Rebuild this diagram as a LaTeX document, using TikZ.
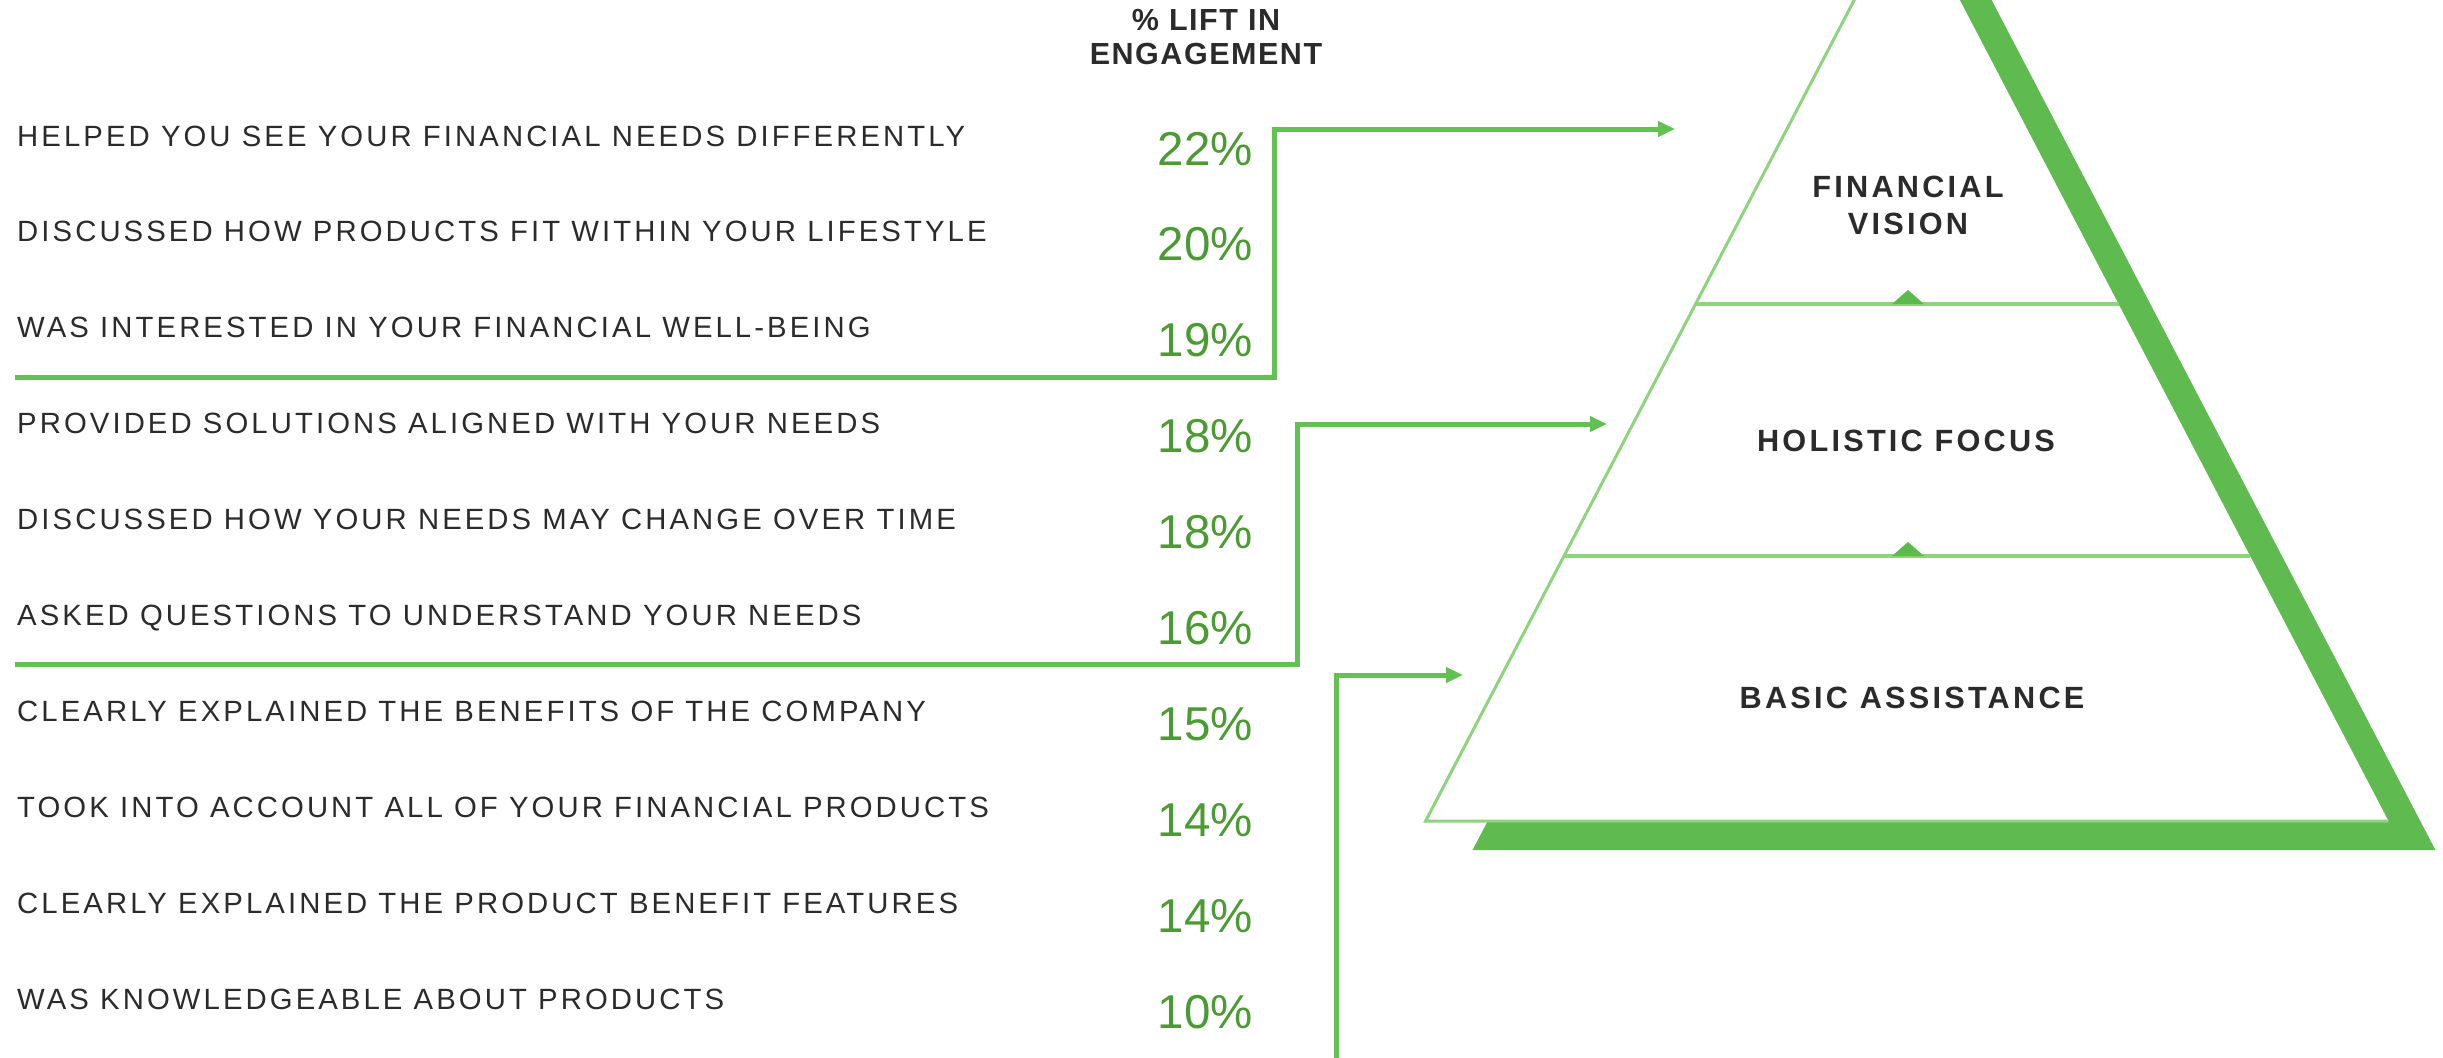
\documentclass[tikz,border=0pt]{standalone}
\usepackage{fontspec}
\setmainfont{Liberation Sans}
\newfontfamily\itemfont[LetterSpace=10.5]{Liberation Sans}
\newfontfamily\headfont[LetterSpace=5]{Liberation Sans Bold}
\newfontfamily\tierfont[LetterSpace=10.5]{Liberation Sans Bold}
\newfontfamily\pctfont{Liberation Sans}
\usetikzlibrary{arrows.meta,calc}

\definecolor{inkgray}{RGB}{43,43,43}
\definecolor{pctgreen}{RGB}{74,155,50}
\definecolor{linkgreen}{RGB}{98,193,82}
\definecolor{shadowgreen}{RGB}{95,187,80}
\definecolor{edgegreen}{RGB}{142,212,126}
\definecolor{markgreen}{RGB}{92,185,77}

\begin{document}
\begin{tikzpicture}[x=1pt,y=-1pt,
  item/.style={inner sep=0pt, anchor=base west, text=inkgray,
    font=\itemfont\fontsize{29.3}{35}\selectfont},
  pct/.style={inner sep=0pt, anchor=base east, text=pctgreen,
    font=\pctfont\fontsize{47.5}{55}\selectfont},
  head/.style={inner sep=0pt, anchor=base, text=inkgray,
    font=\headfont\fontsize{30.5}{36}\selectfont},
  tier/.style={inner sep=0pt, text=inkgray,
    font=\tierfont\fontsize{30.7}{36}\selectfont},
  link/.style={draw=linkgreen, line width=5pt,
    -{Triangle[length=17pt,width=15pt]}},
  divider/.style={draw=edgegreen, line width=4pt},
  notch/.style={fill=markgreen}
]
\useasboundingbox (0,0) rectangle (2443,1057);
\clip (0,0) rectangle (2443,1057);

% ---- pyramid: offset green shadow, white body, tier dividers ----
\coordinate (apex) at (1907,-101);
\coordinate (bl) at (1425.6,821);
\coordinate (br) at (2388.4,821);
\fill[shadowgreen] ([shift={(47,29)}]apex) -- ([shift={(47,29)}]bl)
  -- ([shift={(47,29)}]br) -- cycle;
\fill[white] (apex) -- (bl) -- (br) -- cycle;
\draw[edgegreen, line width=3pt, line join=miter] (apex) -- (bl) -- (br);

\coordinate (d1l) at ($(apex)!0.4393!(bl)$);
\coordinate (d1r) at ($(apex)!0.4393!(br)$);
\coordinate (d2l) at ($(apex)!0.7126!(bl)$);
\coordinate (d2r) at ($(apex)!0.7126!(br)$);
\draw[divider] (d1l) -- (d1r);
\draw[divider] (d2l) -- (d2r);
\fill[notch] (1892,304) -- (1908,290) -- (1924,304) -- cycle;
\fill[notch] (1892,556) -- (1908,542) -- (1924,556) -- cycle;

\node[tier] (vision1) at (1908,187) {FINANCIAL};
\node[tier] (vision2) at (1908,224) {VISION};
\node[tier] (holistic) at (1906,440.5) {HOLISTIC FOCUS};
\node[tier] (basic) at (1912,698) {BASIC ASSISTANCE};

% ---- column header ----
\node[head] (head1) at (1206,30.7) {\% LIFT IN};
\node[head] (head2) at (1206,65) {ENGAGEMENT};

% ---- behaviour list with lift values ----
\foreach \txt/\val [count=\i from 0] in {
  HELPED YOU SEE YOUR FINANCIAL NEEDS DIFFERENTLY/22,
  DISCUSSED HOW PRODUCTS FIT WITHIN YOUR LIFESTYLE/20,
  WAS INTERESTED IN YOUR FINANCIAL WELL-BEING/19,
  PROVIDED SOLUTIONS ALIGNED WITH YOUR NEEDS/18,
  DISCUSSED HOW YOUR NEEDS MAY CHANGE OVER TIME/18,
  ASKED QUESTIONS TO UNDERSTAND YOUR NEEDS/16,
  CLEARLY EXPLAINED THE BENEFITS OF THE COMPANY/15,
  TOOK INTO ACCOUNT ALL OF YOUR FINANCIAL PRODUCTS/14,
  CLEARLY EXPLAINED THE PRODUCT BENEFIT FEATURES/14,
  WAS KNOWLEDGEABLE ABOUT PRODUCTS/10}
{
  \node[item] (row\i) at (17,146+95.9*\i) {\txt};
  \node[pct] (pct\i) at (1253,165+95.9*\i) {\val\%};
}

% ---- brackets grouping the rows into tiers ----
\coordinate (g1s) at (15,377);
\coordinate (g1c) at (1274,377);
\coordinate (g1e) at (1675,129);
\draw[link] (g1s) -- (g1c) |- (g1e);

\coordinate (g2s) at (15,664);
\coordinate (g2c) at (1297,664);
\coordinate (g2e) at (1607,424);
\draw[link] (g2s) -- (g2c) |- (g2e);

\coordinate (g3s) at (15,1060.8);
\coordinate (g3c) at (1336,1060.8);
\coordinate (g3e) at (1463,675);
\draw[link] (g3s) -- (g3c) |- (g3e);
\end{tikzpicture}
\end{document}
